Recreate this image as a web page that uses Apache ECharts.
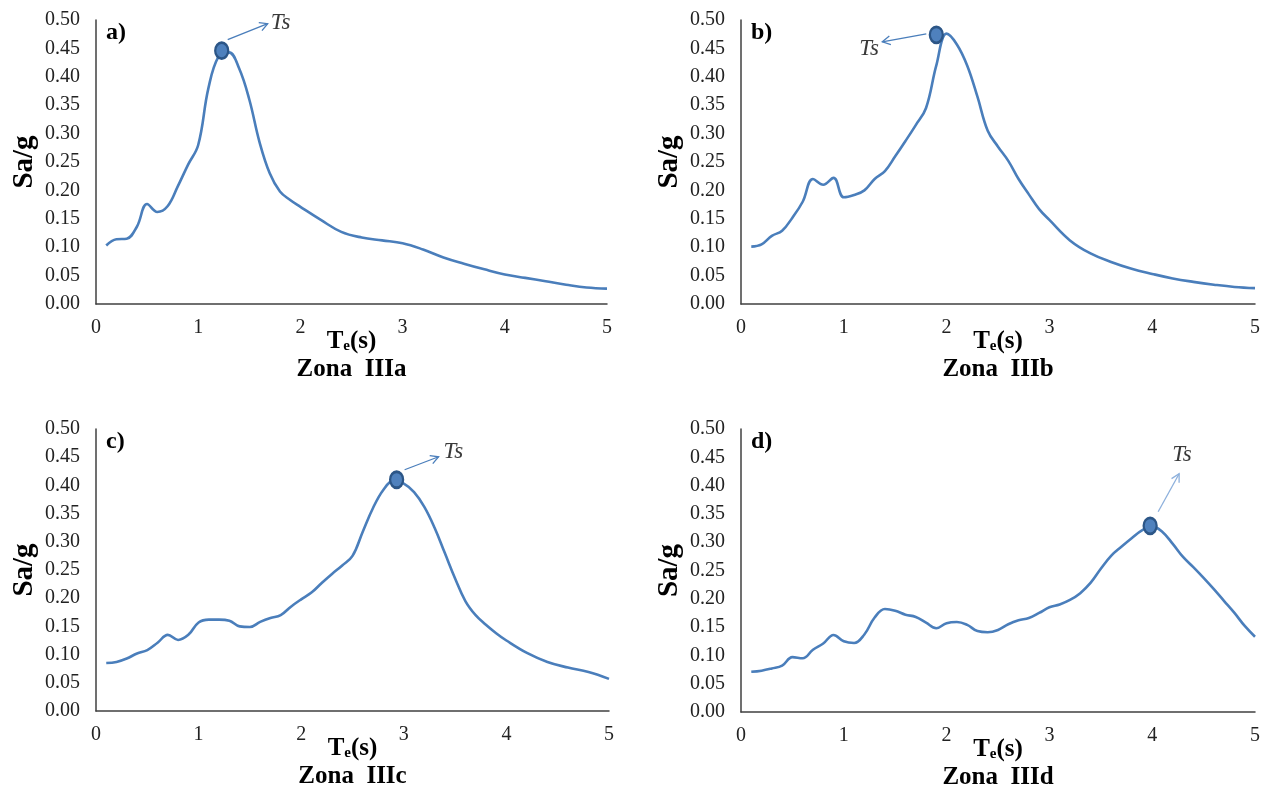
<!DOCTYPE html>
<html>
<head>
<meta charset="utf-8">
<script src="https://cdn.jsdelivr.net/npm/echarts@6/dist/echarts.min.js"></script>
<style>
  html, body { margin: 0; padding: 0; background: #fff; }
  #main { width: 1268px; height: 793px; }
</style>
</head>
<body>
<div id="main"></div>
<script>
// periodo T (s) y ordenada espectral Sa/g
const tA = [0.1,0.2,0.3,0.4,0.5,0.6,0.7,0.8,0.9,1.0,1.1,1.2,1.3,1.4,1.5,1.6,1.7,1.8,1.9,2.0,2.2,2.4,2.6,2.8,3.0,3.2,3.4,3.6,3.8,4.0,4.2,4.4,4.6,4.8,5.0]
const saA = [0.103,0.114,0.115,0.136,0.176,0.162,0.172,0.207,0.245,0.28,0.38,0.436,0.443,0.415,0.36,0.285,0.23,0.198,0.183,0.171,0.148,0.127,0.117,0.112,0.107,0.096,0.082,0.071,0.061,0.052,0.046,0.040,0.034,0.029,0.027]

const tB = [0.1,0.2,0.3,0.4,0.5,0.6,0.7,0.8,0.9,1.0,1.1,1.2,1.3,1.4,1.5,1.6,1.7,1.8,1.9,2.0,2.1,2.2,2.3,2.4,2.5,2.6,2.7,2.8,2.9,3.0,3.2,3.4,3.6,3.8,4.0,4.2,4.4,4.6,4.8,5.0]
const saB = [0.101,0.105,0.12,0.129,0.152,0.18,0.22,0.21,0.222,0.188,0.192,0.2,0.22,0.234,0.26,0.287,0.315,0.345,0.42,0.476,0.457,0.42,0.365,0.305,0.277,0.252,0.22,0.193,0.167,0.148,0.112,0.089,0.074,0.062,0.053,0.045,0.039,0.034,0.030,0.028]

const tC = [0.1,0.2,0.3,0.4,0.5,0.6,0.7,0.8,0.9,1.0,1.1,1.2,1.3,1.4,1.5,1.6,1.7,1.8,1.9,2.0,2.1,2.2,2.3,2.4,2.5,2.6,2.7,2.8,2.9,3.0,3.1,3.2,3.3,3.4,3.5,3.6,3.7,3.8,3.9,4.0,4.2,4.4,4.6,4.8,5.0]
const saC = [0.085,0.087,0.093,0.102,0.108,0.121,0.135,0.126,0.135,0.157,0.162,0.162,0.16,0.15,0.149,0.158,0.165,0.17,0.185,0.198,0.21,0.227,0.243,0.258,0.275,0.318,0.36,0.392,0.408,0.403,0.388,0.362,0.325,0.28,0.235,0.195,0.17,0.153,0.138,0.125,0.103,0.087,0.077,0.069,0.057]

const tD = [0.1,0.2,0.3,0.4,0.5,0.6,0.7,0.8,0.9,1.0,1.1,1.2,1.3,1.4,1.5,1.6,1.7,1.8,1.9,2.0,2.1,2.2,2.3,2.4,2.5,2.6,2.7,2.8,2.9,3.0,3.1,3.2,3.3,3.4,3.5,3.6,3.7,3.8,3.9,4.0,4.1,4.2,4.3,4.4,4.5,4.6,4.7,4.8,4.9,5.0]
const saD = [0.071,0.073,0.077,0.082,0.097,0.095,0.11,0.121,0.136,0.125,0.122,0.137,0.167,0.182,0.179,0.172,0.168,0.158,0.148,0.157,0.159,0.154,0.143,0.141,0.145,0.155,0.162,0.166,0.175,0.185,0.19,0.198,0.21,0.228,0.253,0.276,0.292,0.307,0.321,0.328,0.318,0.297,0.274,0.256,0.237,0.217,0.196,0.175,0.152,0.133]

// periodo del suelo Ts marcado en cada panel
const peaks = [[1.23, 0.446], [1.9, 0.474], [2.93, 0.41], [3.98, 0.329]]
const panelLabels = ['a)', 'b)', 'c)', 'd)']
const zoneNames = ['Zona  IIIa', 'Zona  IIIb', 'Zona  IIIc', 'Zona  IIId']

const font = "'Liberation Serif', 'Times New Roman', serif"
const blue = '#4A7EBB'

const grids = [
  { left: 96, top: 20, width: 511, height: 284 },
  { left: 741, top: 20, width: 514, height: 284 },
  { left: 96, top: 429, width: 513, height: 282 },
  { left: 741, top: 429, width: 514, height: 283 }
]
const curves = [[tA, saA], [tB, saB], [tC, saC], [tD, saD]]

const chart = echarts.init(document.getElementById('main'))

let xAxis = [], yAxis = [], series = [], title = []
grids.forEach((g, i) => {
  xAxis.push({
    type: 'value', gridIndex: i, min: 0, max: 5, interval: 1,
    splitLine: { show: false },
    axisTick: { show: false },
    axisLine: { lineStyle: { color: '#404040', width: 1.5 } },
    axisLabel: { color: '#222', fontFamily: font, fontSize: 20, margin: 14 },
    name: '{b|T}{s|e}{b|(s)}',
    nameLocation: 'middle', nameGap: 25, nameMoveOverlap: false,
    nameTextStyle: {
      rich: {
        b: { fontFamily: font, fontSize: 25, fontWeight: 'bold', color: '#000' },
        s: { fontFamily: font, fontSize: 15, fontWeight: 'bold', color: '#000', padding: [10, 0, 0, 0] }
      }
    }
  })
  yAxis.push({
    type: 'value', gridIndex: i, min: 0, max: 0.5, interval: 0.05,
    splitLine: { show: false },
    axisTick: { show: false },
    axisLine: { show: true, lineStyle: { color: '#404040', width: 1.5 } },
    axisLabel: { color: '#222', fontFamily: font, fontSize: 20, margin: 16,
      formatter: v => v.toFixed(2) },
    name: 'Sa/g', nameLocation: 'middle', nameGap: 57, nameMoveOverlap: false,
    nameTextStyle: { fontFamily: font, fontSize: 29, fontWeight: 'bold', color: '#000' }
  })
  const [t, sa] = curves[i]
  series.push({
    type: 'line', xAxisIndex: i, yAxisIndex: i,
    data: t.map((x, k) => [x, sa[k]]),
    smooth: 0.4, showSymbol: false,
    lineStyle: { color: blue, width: 2.6 },
    markPoint: {
      symbol: 'circle', symbolSize: [13, 16],
      itemStyle: { color: '#4F81BD', borderColor: '#2C5687', borderWidth: 2.5 },
      label: { show: false },
      data: [{ coord: peaks[i] }]
    }
  })
  title.push({
    text: panelLabels[i], left: g.left + 10, top: g.top + 1, padding: 0,
    textStyle: { fontFamily: font, fontSize: 24, fontWeight: 'bold', color: '#000' }
  })
  title.push({
    text: zoneNames[i], left: g.left + g.width / 2, top: g.top + g.height + 53,
    textAlign: 'center', padding: 0,
    textStyle: { fontFamily: font, fontSize: 25, fontWeight: 'bold', color: '#000' }
  })
})

chart.setOption({
  animation: false,
  backgroundColor: '#fff',
  grid: grids,
  xAxis, yAxis, series, title
})

// flechas hacia la etiqueta Ts (desplazamientos en px desde el punto)
const arrows = [
  { from: [6, -11], to: [46, -27], text: [49, -28], color: blue },
  { from: [-10, -1], to: [-54, 7], text: [-77, 14], color: blue },
  { from: [8, -10], to: [42, -23], text: [47, -28], color: blue },
  { from: [8, -14], to: [29, -52], text: [22, -71], color: '#8DB0DC' }
]
let graphic = []
arrows.forEach((a, i) => {
  const p = chart.convertToPixel({ gridIndex: i }, peaks[i])
  const x1 = p[0] + a.from[0], y1 = p[1] + a.from[1]
  const x2 = p[0] + a.to[0], y2 = p[1] + a.to[1]
  const ang = Math.atan2(y2 - y1, x2 - x1)
  const hl = 9, sp = 0.5
  graphic.push({
    type: 'line', shape: { x1, y1, x2, y2 },
    style: { stroke: a.color, lineWidth: 1.3 }, silent: true
  })
  graphic.push({
    type: 'polyline',
    shape: { points: [
      [x2 - hl * Math.cos(ang - sp), y2 - hl * Math.sin(ang - sp)],
      [x2, y2],
      [x2 - hl * Math.cos(ang + sp), y2 - hl * Math.sin(ang + sp)]
    ] },
    style: { stroke: a.color, lineWidth: 1.3, fill: null }, silent: true
  })
  graphic.push({
    type: 'text', x: p[0] + a.text[0], y: p[1] + a.text[1],
    style: { text: 'Ts', font: "italic 23px 'Liberation Serif', serif", fill: '#3a3a3a',
      textVerticalAlign: 'middle' }
  })
})
chart.setOption({ graphic })
</script>
</body>
</html>
